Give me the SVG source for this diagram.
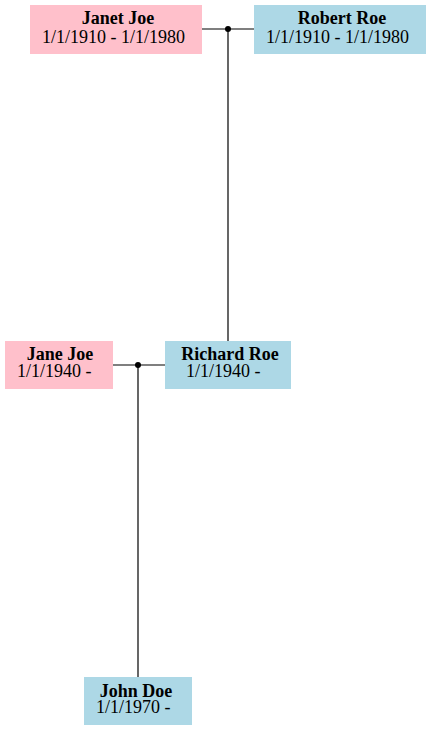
<svg xmlns="http://www.w3.org/2000/svg" width="431" height="731" viewBox="0 0 431 731">
<style>
.f{fill:#FFC0CB}.m{fill:#ADD8E6}
text{font-family:"Liberation Serif","Times New Roman",serif;font-size:18px;fill:#000}
.n{font-weight:bold;text-anchor:middle}
.c line{stroke:#000;stroke-width:1.2}
</style>
<g id="connectors" class="c">
<line x1="202" y1="29" x2="254" y2="29"/>
<line x1="228" y1="29" x2="228" y2="341"/>
<circle cx="228" cy="29" r="3" fill="#000"/>
<line x1="113" y1="365" x2="165" y2="365"/>
<line x1="138" y1="365" x2="138" y2="677"/>
<circle cx="138" cy="365" r="3" fill="#000"/>
</g>
<g id="janet">
<rect class="f" x="30" y="5" width="172" height="49"/>
<text class="n" x="118" y="24">Janet Joe</text>
<text x="42" y="43">1/1/1910 - 1/1/1980</text>
</g>
<g id="robert">
<rect class="m" x="254" y="5" width="172" height="49"/>
<text class="n" x="342" y="24">Robert Roe</text>
<text x="266" y="43">1/1/1910 - 1/1/1980</text>
</g>
<g id="jane">
<rect class="f" x="5" y="341" width="108" height="48"/>
<text class="n" x="60" y="360">Jane Joe</text>
<text x="17" y="377">1/1/1940 -</text>
</g>
<g id="richard">
<rect class="m" x="165" y="341" width="126" height="48"/>
<text class="n" x="230" y="360">Richard Roe</text>
<text x="186" y="377">1/1/1940 -</text>
</g>
<g id="john">
<rect class="m" x="84" y="677" width="108" height="48"/>
<text class="n" x="136" y="697">John Doe</text>
<text x="96" y="713">1/1/1970 -</text>
</g>
</svg>
